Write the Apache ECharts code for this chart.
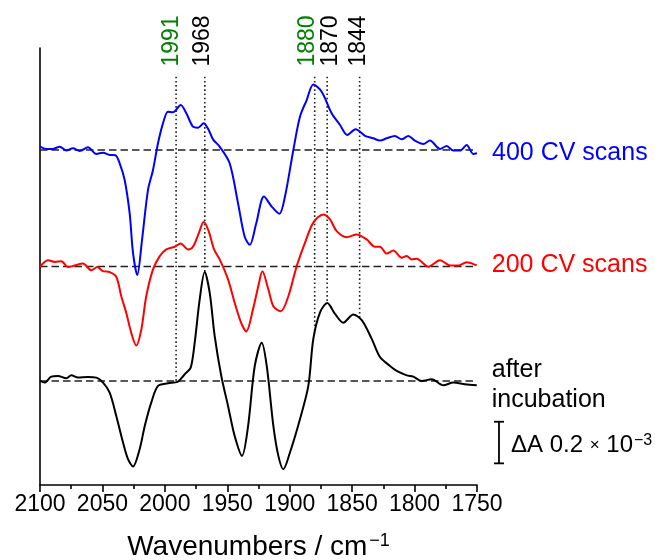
<!DOCTYPE html>
<html>
<head>
<meta charset="utf-8">
<title>IR difference spectra</title>
<script src="https://cdn.jsdelivr.net/npm/echarts@6/dist/echarts.min.js"></script>
<style>
    html, body { margin: 0; padding: 0; background: #fff; }
    #chart { width: 655px; height: 560px; }
</style>
</head>
<body>
<div id="chart"></div>
<script>
// spectra: wavenumber (cm-1) and dA in units of 1e-4
var blueWn = [2100, 2095, 2089.6, 2084.2, 2078.9, 2073.6, 2068.2, 2061.6, 2054.9, 2049.5, 2044.2, 2039.7, 2036.2, 2032.2,
    2028.2, 2025.5, 2022.1, 2018.3, 2013.5, 2009.5, 2005.5, 2001.5, 1997.5, 1993.5, 1987.3, 1982.8, 1977.5, 1973.5,
    1968.9, 1964.9, 1961.4, 1956.1, 1948.1, 1941.4, 1936.1, 1932.0, 1926.8, 1920.6, 1914.4, 1908.3, 1903.8, 1897.1,
    1891.8, 1886.4, 1881.1, 1874.4, 1866.4, 1859.7, 1853.9, 1847.2, 1839.7, 1833.1, 1827.7, 1822.3, 1815.7, 1810.3,
    1805.0, 1799.7, 1793.0, 1787.7, 1779.6, 1774.3, 1769.0, 1763.6, 1758.3, 1753.0, 1750];
var blueDA = [0.16, 0.05, 0.05, 0.16, -0.03, 0.08, -0.05, 0.13, -0.19, -0.13, -0.24, -0.25, -0.64, -1.44,
    -3.04, -4.95, -6.01, -4.33, -1.92, -0.96, 0.32, 1.28, 1.84, 1.81, 2.16, 1.76, 1.12, 1.07,
    1.28, 0.96, 0.51, 0.16, -0.64, -2.56, -4.16, -4.56, -3.52, -2.24, -2.72, -3.07, -2.24, 0.0,
    1.60, 2.40, 3.15, 2.80, 1.76, 1.20, 0.72, 0.99, 0.68, 0.56, 0.45, 0.56, 0.67, 0.51,
    0.67, 0.45, 0.29, 0.45, 0.05, 0.19, -0.03, -0.03, 0.24, -0.19, -0.16];

var redWn = [2100, 2093.6, 2088.2, 2082.9, 2077.6, 2072.2, 2065.6, 2058.9, 2054.1, 2049.5, 2044.2, 2038.9, 2034.9,
    2030.9, 2026.9, 2022.9, 2018.9, 2014.9, 2009.5, 2004.1, 1998.8, 1992.1, 1987.3, 1981.5, 1977.5, 1972.7, 1968.9,
    1964.9, 1960.6, 1956.1, 1949.4, 1944.1, 1938.8, 1934.8, 1929.2, 1925.0, 1921.9, 1917.1, 1913.1, 1907.2, 1901.1,
    1894.4, 1887.8, 1881.1, 1873.1, 1867.7, 1862.4, 1854.4, 1846.4, 1838.4, 1831.7, 1827.7, 1822.3, 1817.0, 1810.3,
    1806.3, 1802.3, 1798.3, 1789.0, 1779.6, 1771.6, 1765.0, 1758.3, 1750.2];
var redDA = [-0.01, 0.30, 0.22, 0.25, -0.03, 0.05, 0.14, -0.18, -0.03, -0.22, -0.27, -0.49, -1.43,
    -2.23, -3.19, -3.80, -3.04, -1.43, -0.14, 0.50, 0.82, 0.95, 1.11, 0.82, 0.95, 1.62, 2.15,
    1.70, 0.82, 0.34, -0.62, -1.74, -2.72, -3.12, -2.0, -0.9, -0.23, -1.10, -1.91, -2.15, -1.43,
    0.02, 1.14, 2.11, 2.50, 2.26, 1.70, 1.41, 1.54, 1.30, 0.95, 0.95, 0.62, 0.77, 0.42,
    0.50, 0.34, 0.37, -0.01, 0.30, 0.05, 0.05, 0.21, 0.05];

var blackWn = [2100, 2096.2, 2091.0, 2085.6, 2078.9, 2074.9, 2069.6, 2061.6, 2054.9, 2049.5, 2044.2, 2038.9, 2033.5,
    2029.5, 2025.5, 2020.2, 2016.1, 2010.9, 2005.5, 1997.5, 1989.5, 1984.1, 1979.3, 1976.1, 1972.1, 1968.1, 1964.1,
    1960.1, 1954.8, 1949.4, 1944.1, 1938.2, 1933.4, 1928.0, 1922.4, 1918.4, 1913.1, 1909.1, 1905.1, 1899.8, 1891.8,
    1885.1, 1881.1, 1875.7, 1869.9, 1863.7, 1857.1, 1849.1, 1842.3, 1834.3, 1827.7, 1819.7, 1814.3, 1806.3, 1801.0,
    1794.3, 1786.3, 1777.0, 1769.0, 1759.6, 1750.2];
var blackDA = [0, -0.08, 0.21, 0.24, 0.13, 0.27, 0.16, 0.19, 0.16, -0.08, -0.56, -1.68, -2.96,
    -3.76, -4.11, -3.28, -2.16, -1.04, -0.24, -0.11, -0.03, 0.32, 0.64, 1.84, 3.92, 5.23, 4.24,
    2.16, 0.24, -1.20, -2.64, -3.60, -2.2, 0.72, 1.84, 0.72, -2.16, -3.60, -4.24, -3.44, -1.84,
    -0.24, 2.02, 3.30, 3.74, 3.22, 2.80, 3.19, 2.92, 2.02, 1.15, 0.72, 0.48, 0.27, 0.21,
    0, 0.08, -0.21, -0.08, -0.16, -0.21];

// vertical stacking offsets of the three traces
var blueOff = 16.1, redOff = 10.5, blackOff = 5;

var traceNames = ['400 CV scans', '200 CV scans', 'after\nincubation'];
var peakWn = [1991, 1968, 1880, 1870, 1844];
var peakColor = ['#008000', '#000000', '#008000', '#000000', '#000000'];
// small sideways nudges (px) so neighbouring labels don't collide
var peakNudge = [-4, -2, -7, 3, -1];

// scale bar: 0.2e-3 = 2 units
var scaleBarWn = 1732.4, scaleBarFrom = 1.04, scaleBarLen = 2;

var FONT = '"Liberation Sans", Arial, sans-serif';
var dotTop = 19.62, peakLabelY = 21.34;

function pairs(wn, da, off) {
    return wn.map(function (w, i) { return [w, da[i] + off]; });
}

function blackAt(w) {
    for (var i = 0; i < blackWn.length - 1; i++) {
        var a = blackWn[i], b = blackWn[i + 1];
        if (w <= a && w >= b) {
            var t = (a - w) / (a - b);
            return blackDA[i] + t * (blackDA[i + 1] - blackDA[i]);
        }
    }
    return 0;
}

var series = [];

// dashed baselines
[blueOff, redOff, blackOff].forEach(function (off) {
    series.push({
        type: 'line', silent: true, symbol: 'none', z: 1,
        data: [[2100, off], [1750, off]],
        lineStyle: { color: '#222', width: 1.4, type: [7.5, 4] }
    });
});

// dotted peak markers, down to the black trace
peakWn.forEach(function (w) {
    series.push({
        type: 'line', silent: true, symbol: 'none', z: 1,
        data: [[w, dotTop], [w, blackAt(w) + blackOff]],
        lineStyle: { color: '#222', width: 1.6, type: [1.6, 2.6] }
    });
});

var traces = [
    { wn: blackWn, da: blackDA, off: blackOff, color: '#000000', name: traceNames[2] },
    { wn: redWn, da: redDA, off: redOff, color: '#ff0000', name: traceNames[1] },
    { wn: blueWn, da: blueDA, off: blueOff, color: '#0000ff', name: traceNames[0] }
];

traces.forEach(function (t) {
    series.push({
        type: 'line', symbol: 'none', smooth: 0.3, z: 3, silent: true,
        data: pairs(t.wn, t.da, t.off),
        lineStyle: { color: t.color, width: 2 }
    });
});

// trace names next to the last point of each trace
series.push({
    type: 'scatter', clip: false, silent: true, symbolSize: 0,
    itemStyle: { opacity: 1 },
    data: traces.map(function (t) {
        var n = t.wn.length - 1;
        return { value: [t.wn[n], t.da[n] + t.off], name: t.name, label: { color: t.color } };
    }),
    label: {
        show: true, position: 'right', distance: 15,
        fontSize: 25, fontFamily: FONT, lineHeight: 30,
        formatter: function (p) { return p.name; }
    }
});

// rotated peak labels (offset is in the rotated frame, so the nudge goes in y)
series.push({
    type: 'scatter', clip: false, silent: true, symbolSize: 0,
    itemStyle: { opacity: 1 },
    data: peakWn.map(function (w, i) {
        return { value: [w, peakLabelY], label: { color: peakColor[i], offset: [0, peakNudge[i]] } };
    }),
    label: {
        show: true, position: 'inside', rotate: 90,
        fontSize: 23, fontFamily: FONT,
        formatter: function (p) { return String(p.value[0]); }
    }
});

// scale bar
series.push({
    type: 'custom', clip: false, silent: true,
    data: [[scaleBarWn, scaleBarFrom, scaleBarLen]],
    renderItem: function (params, api) {
        var bot = api.coord([api.value(0), api.value(1)]);
        var top = api.coord([api.value(0), api.value(1) + api.value(2)]);
        var cap = 5;
        var ls = { stroke: '#000', lineWidth: 1.8 };
        return {
            type: 'group',
            children: [
                { type: 'line', shape: { x1: top[0], y1: top[1], x2: bot[0], y2: bot[1] }, style: ls },
                { type: 'line', shape: { x1: top[0] - cap, y1: top[1], x2: top[0] + cap, y2: top[1] }, style: ls },
                { type: 'line', shape: { x1: bot[0] - cap, y1: bot[1], x2: bot[0] + cap, y2: bot[1] }, style: ls },
                {
                    type: 'text', x: top[0] + 12, y: (top[1] + bot[1]) / 2 + 3,
                    style: {
                        text: '{a|ΔA 0.2 }{x|×}{a| 10}{s|−3}',
                        align: 'left', verticalAlign: 'middle',
                        rich: {
                            a: { fontSize: 24, fontFamily: FONT, fill: '#000' },
                            x: { fontSize: 17, fontFamily: FONT, fill: '#000' },
                            s: { fontSize: 16, fontFamily: FONT, fill: '#000', verticalAlign: 'top', padding: [0, 0, 10, 1] }
                        }
                    }
                }
            ]
        };
    }
});

var chart = echarts.init(document.getElementById('chart'));
chart.setOption({
    animation: false,
    backgroundColor: '#ffffff',
    grid: { left: 40, right: 178, top: 48, bottom: 75, outerBoundsMode: 'none' },
    xAxis: {
        type: 'value', inverse: true, min: 1750, max: 2100, interval: 50,
        name: '{a|Wavenumbers / cm}{s|−1}',
        nameLocation: 'middle', nameGap: 47,
        nameTextStyle: {
            rich: {
                a: { fontSize: 28, fontFamily: FONT, color: '#000' },
                s: { fontSize: 18, fontFamily: FONT, color: '#000', verticalAlign: 'top', padding: [0, 0, 12, 2] }
            }
        },
        axisLine: { onZero: false, lineStyle: { color: '#000', width: 1.6 } },
        axisTick: { inside: false, length: 7, lineStyle: { color: '#000', width: 1.6 } },
        minorTick: { show: true, splitNumber: 2, length: 4, lineStyle: { color: '#000', width: 1.6 } },
        axisLabel: {
            color: '#000', fontSize: 23, fontFamily: FONT, margin: 8,
            formatter: function (v) { return String(v); }
        },
        splitLine: { show: false }
    },
    yAxis: {
        type: 'value', min: 0, max: 21,
        axisLine: { show: true, onZero: false, lineStyle: { color: '#000', width: 1.6 } },
        axisTick: { show: false },
        axisLabel: { show: false },
        splitLine: { show: false }
    },
    series: series
});
</script>
</body>
</html>
